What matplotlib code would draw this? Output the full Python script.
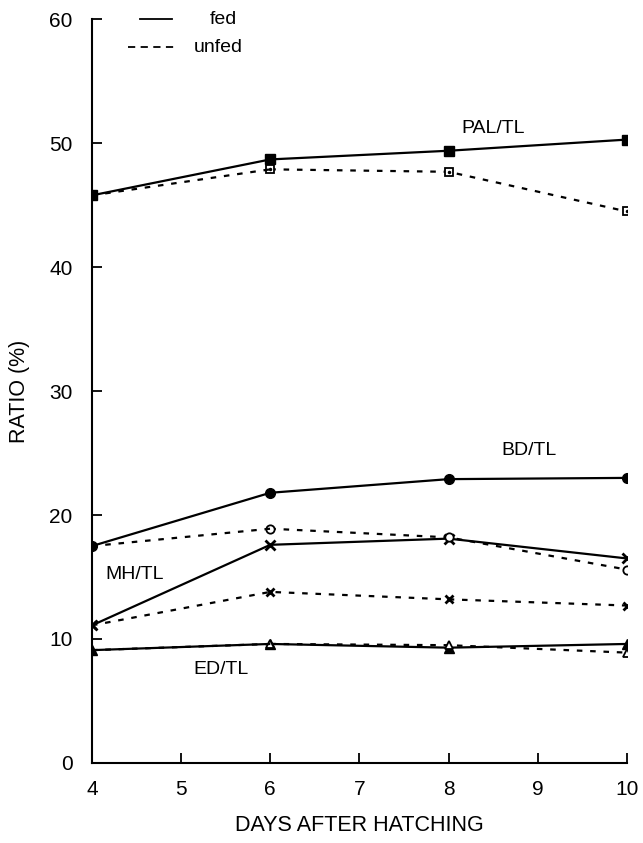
import matplotlib
matplotlib.use("Agg")
import matplotlib.pyplot as plt
from matplotlib.lines import Line2D

plt.rcParams['font.family'] = ['Liberation Sans', 'DejaVu Sans']

days = [4, 6, 8, 10]

# ratios (%)
pal_fed = [45.8, 48.7, 49.4, 50.3]
pal_unfed = [45.8, 47.9, 47.7, 44.5]
bd_fed = [17.5, 21.8, 22.9, 23.0]
bd_unfed = [17.5, 18.9, 18.2, 15.6]
mh_fed = [11.1, 17.6, 18.1, 16.5]
mh_unfed = [11.1, 13.8, 13.2, 12.7]
ed_fed = [9.1, 9.6, 9.3, 9.6]
ed_unfed = [9.1, 9.6, 9.5, 8.9]

series_labels = ["PAL/TL", "BD/TL", "MH/TL", "ED/TL"]
label_pos = [(8.5, 51.2), (8.9, 25.2), (4.48, 15.2), (5.45, 7.5)]

fig = plt.figure(figsize=(6.43, 8.43), dpi=100)
ax = fig.add_axes([0.143, 0.095, 0.832, 0.882])

dash = (0, (2.5, 3.5))
ms = 7

# fed: solid lines, filled markers
ax.plot(days, pal_fed, color='black', lw=1.6, marker='s', ms=ms, mfc='black')
ax.plot(days, bd_fed, color='black', lw=1.6, marker='o', ms=ms, mfc='black')
ax.plot(days, mh_fed, color='black', lw=1.6, marker='x', ms=ms, mew=2)
ax.plot(days, ed_fed, color='black', lw=1.6, marker='^', ms=ms, mfc='black')

# unfed: dashed lines, open markers (first point shared with fed)
ax.plot(days[1:], pal_unfed[1:], color='black', lw=1.6, ls=dash, marker='s', ms=6, mfc='white', mew=1.3)
ax.plot(days[:2], pal_unfed[:2], color='black', lw=1.6, ls=dash)
ax.plot(days[1:], pal_unfed[1:], ls='none', marker='.', ms=3, color='black')
ax.plot(days[1:], bd_unfed[1:], color='black', lw=1.6, ls=dash, marker='o', ms=6, mfc='white', mew=1.3)
ax.plot(days[:2], bd_unfed[:2], color='black', lw=1.6, ls=dash)
ax.plot(days, mh_unfed, color='black', lw=1.6, ls=dash, marker='x', ms=6, mew=2)
ax.plot(days[1:], ed_unfed[1:], color='black', lw=1.6, ls=dash, marker='^', ms=6, mfc='white', mew=1.3)
ax.plot(days[:2], ed_unfed[:2], color='black', lw=1.6, ls=dash)

for txt, (x, y) in zip(series_labels, label_pos):
    ax.text(x, y, txt, fontsize=14, ha='center', va='center')

ax.set_xlim(4, 10)
ax.set_ylim(0, 60)
ax.set_xticks(range(4, 11))
ax.set_yticks(range(0, 61, 10))
ax.spines['top'].set_visible(False)
ax.spines['right'].set_visible(False)
ax.spines['left'].set_linewidth(1.5)
ax.spines['bottom'].set_linewidth(1.5)
ax.tick_params(direction='in', length=7, width=1.3, labelsize=15)
ax.tick_params(axis='y', pad=14)
ax.tick_params(axis='x', pad=12)
ax.set_xlabel("DAYS AFTER HATCHING", fontsize=15.5, labelpad=12)
ax.set_ylabel("RATIO (%)", fontsize=15.5, labelpad=14)

# legend drawn by hand: short solid line over a dashed one
fig.add_artist(Line2D([0.218, 0.268], [0.977, 0.977], color='black', lw=1.3))
fig.add_artist(Line2D([0.199, 0.275], [0.944, 0.944], color='black', lw=1.3, ls=(0, (4, 3))))
fig.text(0.348, 0.977, "fed", fontsize=14, ha='center', va='center')
fig.text(0.339, 0.944, "unfed", fontsize=14, ha='center', va='center')

fig.savefig("out.png", dpi=100)
